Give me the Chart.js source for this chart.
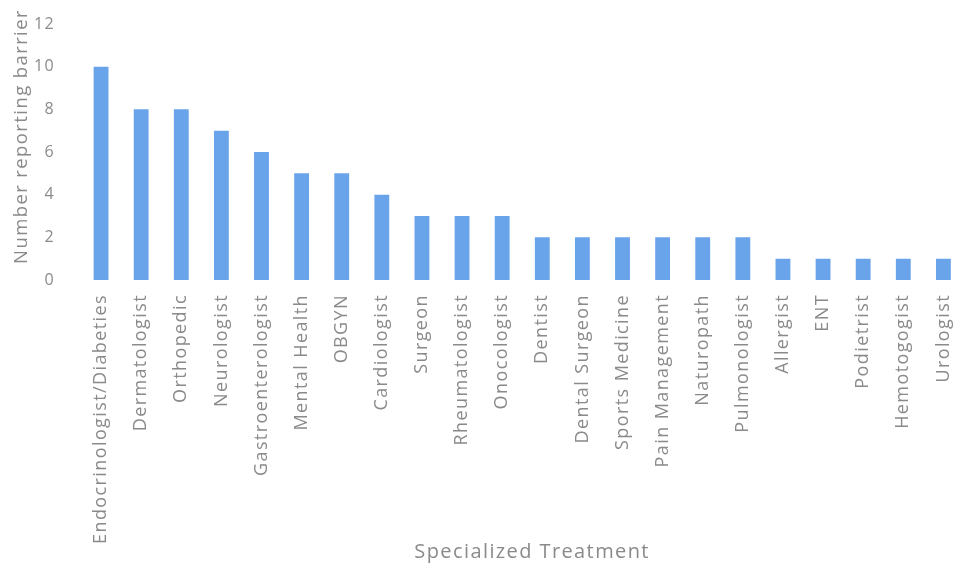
<html lang="en">
  <head>
    <meta charset="UTF-8" />
    <script src="https://cdn.jsdelivr.net/npm/chart.js"></script>
    <title>Specialized Treatment</title>
    <style>
      body { margin: 0; overflow: hidden; background: #fff; }
      #wrap { width: 979px; height: 564px; }
    </style>
  </head>
  <body>
    <div id="wrap">
      <canvas id="barChart"></canvas>
    </div>
    <script>
      // categories and counts
      const specialties = [
        'Endocrinologist/Diabeties', 'Dermatologist', 'Orthopedic', 'Neurologist',
        'Gastroenterologist', 'Mental Health', 'OBGYN', 'Cardiologist', 'Surgeon',
        'Rheumatologist', 'Onocologist', 'Dentist', 'Dental Surgeon', 'Sports Medicine',
        'Pain Management', 'Naturopath', 'Pulmonologist', 'Allergist', 'ENT',
        'Podietrist', 'Hemotogogist', 'Urologist'
      ];
      const counts = [10, 8, 8, 7, 6, 5, 5, 4, 3, 3, 3, 2, 2, 2, 2, 2, 2, 1, 1, 1, 1, 1];
      const yTicks = [0, 2, 4, 6, 8, 10, 12];

      const grey = '#8a8a8a';

      // the original text is spaced out a bit, canvas letterSpacing gets reset on resize
      const spacing = {
        id: 'spacing',
        beforeLayout(chart) { chart.ctx.letterSpacing = '1.4px'; },
        beforeDraw(chart) { chart.ctx.letterSpacing = '1.4px'; }
      };

      const ctx = document.getElementById('barChart').getContext('2d');
      const barChart = new Chart(ctx, {
        type: 'bar',
        data: {
          labels: specialties,
          datasets: [{
            data: counts,
            backgroundColor: '#69a3ea',
            barPercentage: 0.74,
            categoryPercentage: 0.5
          }]
        },
        plugins: [spacing],
        options: {
          responsive: true,
          maintainAspectRatio: false,
          animation: false,
          layout: { padding: { top: 24, left: 0, right: 0, bottom: 0 } },
          plugins: { legend: { display: false }, tooltip: { enabled: false } },
          scales: {
            x: {
              afterFit: axis => { axis.height = 284; },
              grid: { display: false, drawTicks: false },
              border: { display: false },
              ticks: {
                color: grey, maxRotation: 90, minRotation: 90, autoSkip: false, padding: 14,
                font: { family: 'Open Sans', size: 18 }
              },
              title: {
                display: true, text: '   Specialized Treatment', color: grey,
                font: { family: 'Open Sans', size: 20 }, padding: { top: 0, bottom: 0 }
              }
            },
            y: {
              min: 0, max: 12,
              afterBuildTicks: axis => { axis.ticks = yTicks.map(v => ({ value: v })); },
              afterFit: axis => {
                axis.width = 81;
                axis.paddingTop = 0;
                axis.paddingBottom = 0;
              },
              grid: { display: false, drawTicks: false },
              border: { display: false },
              ticks: { color: grey, font: { family: 'Open Sans', size: 16 }, padding: 26 },
              title: {
                // leading spaces push the text up a little, like the original
                display: true, text: '     Number reporting barrier', color: grey,
                font: { family: 'Open Sans', size: 18.5 }, padding: { top: 11, bottom: 0 }
              }
            }
          }
        }
      });
    </script>
  </body>
</html>
